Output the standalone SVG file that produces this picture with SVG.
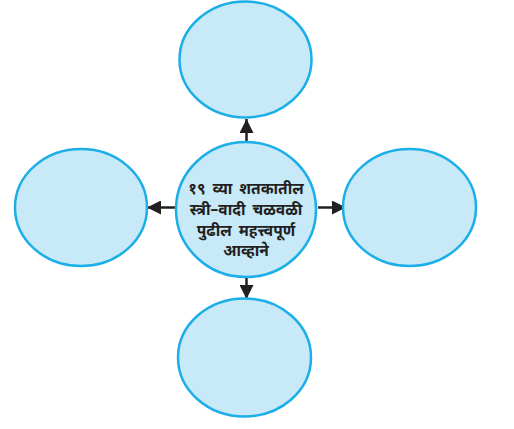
<svg xmlns="http://www.w3.org/2000/svg" width="514" height="429" viewBox="0 0 514 429">
<style>
.node{fill:#c7e9f8;stroke:#1caee8;stroke-width:2.5}
.conn{stroke:#231f20;stroke-width:2.5;fill:none}
.lbl{font-family:"Noto Sans Devanagari","Noto Sans","Noto Serif Devanagari",sans-serif;font-size:15.5px;font-weight:bold;fill:#231f20;text-anchor:middle;word-spacing:3px}
</style>
<defs>
<marker id="ah" viewBox="0 0 10 10" refX="10" refY="5" markerWidth="6.4" markerHeight="5.6" markerUnits="strokeWidth" orient="auto">
<path d="M0,0 L10,5 L0,10 Z" fill="#231f20"/>
</marker>
</defs>
<rect width="514" height="429" fill="#ffffff"/>
<g id="connectors">
<line class="conn" x1="246.5" y1="143" x2="246.5" y2="119" marker-end="url(#ah)"/>
<line class="conn" x1="246.5" y1="275" x2="246.5" y2="299" marker-end="url(#ah)"/>
<line class="conn" x1="176" y1="207.5" x2="147" y2="207.5" marker-end="url(#ah)"/>
<line class="conn" x1="318" y1="207.5" x2="346" y2="207.5" marker-end="url(#ah)"/>
</g>
<g id="node-top"><ellipse class="node" cx="245.5" cy="59.5" rx="66" ry="58"/></g>
<g id="node-left"><ellipse class="node" cx="81" cy="207.5" rx="66" ry="58.5"/></g>
<g id="node-right"><ellipse class="node" cx="409.5" cy="207.5" rx="66.5" ry="58.5"/></g>
<g id="node-bottom"><ellipse class="node" cx="244.5" cy="357.5" rx="66.5" ry="59"/></g>
<g id="node-center">
<ellipse class="node" cx="246" cy="209.5" rx="70" ry="67.5"/>
<text class="lbl" x="246" y="194">१९ व्या शतकातील</text>
<text class="lbl" x="246" y="215">स्त्री–वादी चळवळी</text>
<text class="lbl" x="246" y="236">पुढील महत्त्वपूर्ण</text>
<text class="lbl" x="246" y="256">आव्हाने</text>
</g>
</svg>
